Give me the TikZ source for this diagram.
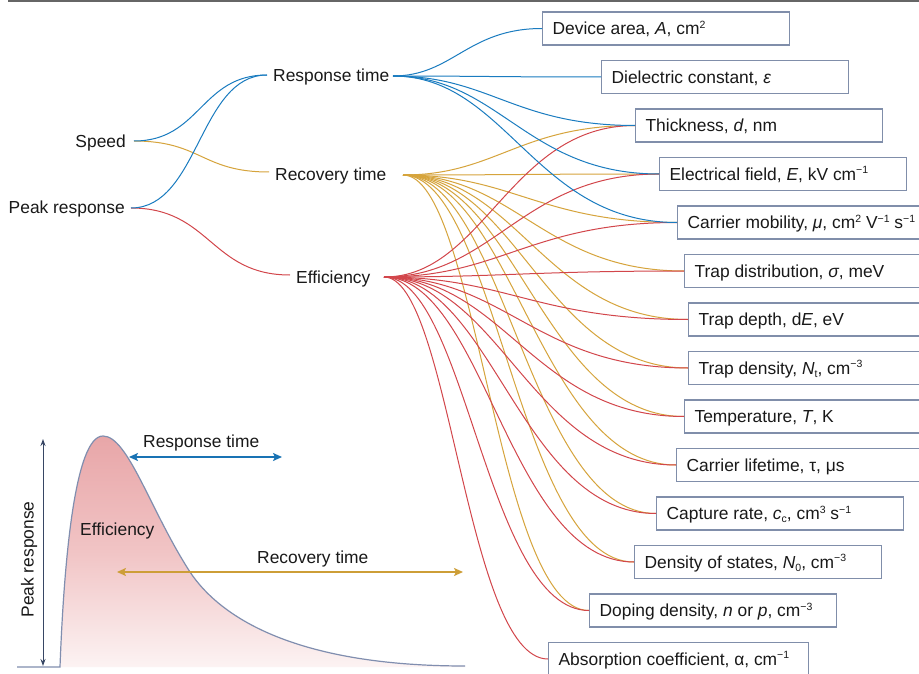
\documentclass[tikz,border=0pt]{standalone}
\usepackage{fontspec}
\setmainfont{Liberation Sans}
\usetikzlibrary{calc,arrows.meta}
\definecolor{cblue}{RGB}{26,124,192}
\definecolor{cgold}{RGB}{214,164,60}
\definecolor{cred}{RGB}{210,70,75}
\definecolor{cbox}{RGB}{128,142,170}
\definecolor{cnavy}{RGB}{55,70,100}
\definecolor{ccurve}{RGB}{128,142,175}
\definecolor{ftop}{RGB}{232,166,168}
\definecolor{fmid}{RGB}{241,196,197}
\definecolor{fbot}{RGB}{252,243,243}
\definecolor{ablue}{RGB}{25,115,180}
\definecolor{agold}{RGB}{205,158,55}
\newcommand\rconn[3]{\draw[wire,#1] (#2) .. controls ($(#2)!0.4!(#2 -| #3)$) and ($(#3)!0.5!(#3 -| #2)$) .. (#3);}
\newcommand\lconn[3]{\draw[wire,#1] (#2) .. controls ($(#2)!0.5!(#2 -| #3)$) and ($(#3)!0.5!(#3 -| #2)$) .. (#3);}
\newcommand\bx[1]{\makebox[227pt][l]{#1}}
\newcommand\sups[1]{\raisebox{0.36em}{\fontsize{10.5}{10}\selectfont #1}}
\newcommand\subs[1]{\raisebox{-0.18em}{\fontsize{10.5}{10}\selectfont #1}}
\begin{document}
\begin{tikzpicture}[x=1pt,y=-1pt,
  every node/.style={font=\fontsize{17.4}{21}\selectfont, text=black!90},
  lbl/.style={inner sep=0pt},
  pbox/.style={draw=cbox, line width=1.2pt, inner xsep=10pt, inner ysep=10.25pt, text height=12.5pt, text depth=0pt, anchor=west, fill=white},
  wire/.style={line width=1pt},
  darr/.style={line width=2.2pt, {Stealth[length=9pt,width=8pt,inset=2pt]}-{Stealth[length=9pt,width=8pt,inset=2pt]}},
]
\clip (0,0) rectangle (919,674);
\fill[white] (0,0) rectangle (919,674);
\draw[black!60, line width=1.6pt] (8,0.8) -- (919,0.8);

% text labels
\node[lbl, anchor=base east] (speed) at (126,148) {Speed};
\node[lbl, anchor=base east] (peak) at (125,214) {Peak response};
\node[lbl, anchor=base west] (resp) at (273,82) {Response time};
\node[lbl, anchor=base west] (rec) at (275,181) {Recovery time};
\node[lbl, anchor=base west] (eff) at (296,283) {Efficiency};

\coordinate (spO) at (134,141);
\coordinate (pkO) at (131,208);
\coordinate (rtI) at (267,75);
\coordinate (rcI) at (269,172);
\coordinate (efI) at (290,275);
\coordinate (rtO) at (393,76);
\coordinate (rcO) at (403,175);
\coordinate (efO) at (384,277);

% boxes
\node[pbox] (b1) at (542,28.5) {\bx{Device area, \textit{A}, cm\sups{2}}};
\node[pbox] (b2) at (601,77) {\bx{Dielectric constant, \textit{ε}}};
\node[pbox] (b3) at (635,125.5) {\bx{Thickness, \textit{d}, nm}};
\node[pbox] (b4) at (659,174) {\bx{Electrical field, \textit{E}, kV cm\sups{−1}}};
\node[pbox] (b5) at (677,222.5) {\bx{Carrier mobility, \textit{μ}, cm\sups{2} V\sups{−1} s\sups{−1}}};
\node[pbox] (b6) at (684,271) {\bx{Trap distribution, \textit{σ}, meV}};
\node[pbox] (b7) at (688,319.5) {\bx{Trap depth, d\textit{E}, eV}};
\node[pbox] (b8) at (688,368) {\bx{Trap density, \textit{N}\subs{t}, cm\sups{−3}}};
\node[pbox] (b9) at (684,416.5) {\bx{Temperature, \textit{T}, K}};
\node[pbox] (b10) at (676,465) {\bx{Carrier lifetime, τ, μs}};
\node[pbox] (b11) at (656,513.5) {\bx{Capture rate, \textit{c}\subs{c}, cm\sups{3} s\sups{−1}}};
\node[pbox] (b12) at (634,562) {\bx{Density of states, \textit{N}\subs{0}, cm\sups{−3}}};
\node[pbox] (b13) at (589,610.5) {\bx{Doping density, \textit{n} or \textit{p}, cm\sups{−3}}};
\node[pbox] (b14) at (548,659) {\makebox[240pt][l]{Absorption coefficient, α, cm\sups{−1}}};

% left connectors
\lconn{cgold}{spO}{rcI}
\lconn{cred}{pkO}{efI}
\lconn{cblue}{spO}{rtI}
\lconn{cblue}{pkO}{rtI}

% right connectors
\foreach \b in {3,...,13} {\rconn{cgold}{rcO}{b\b.west}}
\foreach \b in {3,...,14} {\rconn{cred}{efO}{b\b.west}}
\foreach \b in {1,...,5} {\rconn{cblue}{rtO}{b\b.west}}

% pulse
\path[top color=ftop, bottom color=fbot, middle color=fmid]
  (60,667) .. controls (64,560) and (75,436) .. (103,436)
  .. controls (128,436) and (150,510) .. (190,572)
  .. controls (222,620) and (300,666) .. (465,666) -- (465,667) -- cycle;
\draw[ccurve, line width=1.2pt] (17,667) -- (60,667)
  .. controls (64,560) and (75,436) .. (103,436)
  .. controls (128,436) and (150,510) .. (190,572)
  .. controls (222,620) and (300,666) .. (465,666);
\draw[cnavy, line width=1pt, {Stealth[length=7pt,width=5pt]}-{Stealth[length=7pt,width=5pt]}] (43,439) -- (43,666);
\draw[ablue, darr] (129,457) -- (282,457);
\draw[agold, darr] (117,572) -- (463,572);
\node[lbl, anchor=base west] (lresp) at (143,447) {Response time};
\node[lbl, anchor=base west] (lrec) at (257,563) {Recovery time};
\node[lbl, anchor=base west] (leff) at (80,535) {Efficiency};
\node[lbl, rotate=90, anchor=base] (lpeak) at (33.5,559.5) {Peak response};
\end{tikzpicture}
\end{document}
